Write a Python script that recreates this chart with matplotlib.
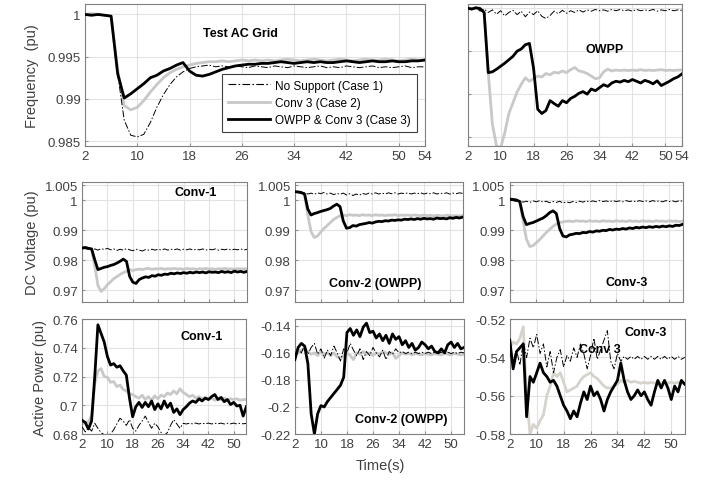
import matplotlib
matplotlib.use("Agg")
import matplotlib.pyplot as plt
from matplotlib.lines import Line2D
from matplotlib.ticker import FormatStrFormatter

plt.rcParams['font.family'] = ['Liberation Sans', 'DejaVu Sans']

t = list(range(2, 55))

# frequency, test AC grid
f_grid_c1 = [1.0000, 1.0000, 0.9999, 1.0000, 0.9998, 0.9930, 0.9875, 0.9857, 0.9855, 0.9858,
             0.9872, 0.9890, 0.9905, 0.9917, 0.9926, 0.9932, 0.9936, 0.9938, 0.9939, 0.9940,
             0.9938, 0.9939, 0.9938, 0.9939, 0.9938, 0.9937, 0.9939, 0.9938, 0.9937, 0.9939,
             0.9938, 0.9937, 0.9939, 0.9938, 0.9937, 0.9938, 0.9939, 0.9937, 0.9938, 0.9937,
             0.9939, 0.9938, 0.9937, 0.9938, 0.9939, 0.9937, 0.9938, 0.9937, 0.9938, 0.9939,
             0.9937, 0.9938, 0.9938]
f_grid_c2 = [1.0000, 1.0001, 1.0000, 0.9999, 0.9998, 0.9935, 0.9892, 0.9887, 0.9890, 0.9898,
             0.9908, 0.9917, 0.9925, 0.9931, 0.9935, 0.9938, 0.9940, 0.9942, 0.9943, 0.9944,
             0.9944, 0.9945, 0.9944, 0.9945, 0.9946, 0.9945, 0.9946, 0.9945, 0.9946, 0.9945,
             0.9946, 0.9947, 0.9946, 0.9945, 0.9946, 0.9947, 0.9946, 0.9945, 0.9946, 0.9947,
             0.9946, 0.9945, 0.9946, 0.9947, 0.9946, 0.9946, 0.9947, 0.9946, 0.9945, 0.9946,
             0.9947, 0.9946, 0.9946]
f_grid_c3 = [1.0000, 0.9999, 1.0000, 0.9999, 0.9998, 0.9930, 0.9901, 0.9906, 0.9912, 0.9918,
             0.9925, 0.9928, 0.9933, 0.9936, 0.9940, 0.9943, 0.9933, 0.9928, 0.9927, 0.9929,
             0.9932, 0.9935, 0.9937, 0.9939, 0.9940, 0.9941, 0.9941, 0.9942, 0.9942, 0.9943,
             0.9944, 0.9943, 0.9942, 0.9943, 0.9944, 0.9943, 0.9944, 0.9943, 0.9943, 0.9944,
             0.9945, 0.9944, 0.9943, 0.9944, 0.9945, 0.9944, 0.9944, 0.9945, 0.9944, 0.9944,
             0.9945, 0.9945, 0.9946]

# frequency, OWPP
f_owpp_c1 = [1.0000, 0.9996, 1.0002, 0.9993, 0.9998, 0.9990, 0.9996, 0.9986, 0.9994, 0.9982,
             0.9990, 0.9995, 0.9985, 0.9993, 0.9980, 0.9991, 0.9985, 0.9994, 0.9981, 0.9976,
             0.9983, 0.9993, 0.9987, 0.9995, 0.9988, 0.9994, 0.9990, 0.9996, 0.9991, 0.9996,
             0.9993, 0.9997, 0.9994, 0.9996, 0.9993, 0.9997, 0.9994, 0.9997, 0.9994, 0.9996,
             0.9993, 0.9997, 0.9994, 0.9996, 0.9994, 0.9997, 0.9993, 0.9996, 0.9994, 0.9997,
             0.9994, 0.9996, 0.9995]
f_owpp_c2 = [1.0000, 1.0000, 0.9999, 1.0000, 0.9990, 0.9850, 0.9730, 0.9680, 0.9675, 0.9710,
             0.9755, 0.9780, 0.9805, 0.9823, 0.9838, 0.9830, 0.9836, 0.9842, 0.9840, 0.9848,
             0.9845, 0.9851, 0.9849, 0.9854, 0.9850, 0.9857, 0.9862, 0.9854, 0.9852, 0.9848,
             0.9842, 0.9836, 0.9838, 0.9852, 0.9858, 0.9854, 0.9856, 0.9855, 0.9856, 0.9855,
             0.9856, 0.9855, 0.9857, 0.9855, 0.9856, 0.9855, 0.9856, 0.9857, 0.9855, 0.9856,
             0.9855, 0.9856, 0.9856]
f_owpp_c3 = [1.0000, 0.9998, 1.0001, 0.9999, 0.9990, 0.9850, 0.9852, 0.9858, 0.9865, 0.9872,
             0.9880, 0.9888, 0.9900, 0.9905, 0.9915, 0.9918, 0.9860, 0.9765, 0.9755, 0.9762,
             0.9785, 0.9778, 0.9772, 0.9785, 0.9780, 0.9790, 0.9795, 0.9802, 0.9806, 0.9800,
             0.9812, 0.9808, 0.9815, 0.9822, 0.9818, 0.9826, 0.9830, 0.9828, 0.9832, 0.9829,
             0.9834, 0.9830, 0.9826, 0.9832, 0.9829, 0.9824, 0.9831, 0.9820, 0.9825, 0.9830,
             0.9836, 0.9840, 0.9847]

# DC voltage
dc1_c1 = [0.9840, 0.9838, 0.9836, 0.9834, 0.9837, 0.9833, 0.9838, 0.9835, 0.9839, 0.9834,
          0.9837, 0.9832, 0.9836, 0.9833, 0.9838, 0.9834, 0.9831, 0.9836, 0.9833, 0.9830,
          0.9835, 0.9833, 0.9836, 0.9833, 0.9836, 0.9833, 0.9837, 0.9833, 0.9836, 0.9834,
          0.9837, 0.9833, 0.9836, 0.9834, 0.9837, 0.9833, 0.9836, 0.9834, 0.9837, 0.9833,
          0.9836, 0.9834, 0.9837, 0.9833, 0.9836, 0.9834, 0.9837, 0.9833, 0.9836, 0.9834,
          0.9837, 0.9833, 0.9836]
dc1_c2 = [0.9838, 0.9840, 0.9838, 0.9836, 0.9780, 0.9715, 0.9695, 0.9705, 0.9718, 0.9728,
          0.9738, 0.9745, 0.9752, 0.9758, 0.9762, 0.9768, 0.9765, 0.9768, 0.9770, 0.9768,
          0.9771, 0.9772, 0.9769, 0.9771, 0.9770, 0.9772, 0.9769, 0.9771, 0.9770, 0.9772,
          0.9770, 0.9771, 0.9769, 0.9772, 0.9770, 0.9771, 0.9769, 0.9771, 0.9770, 0.9772,
          0.9770, 0.9771, 0.9769, 0.9771, 0.9770, 0.9772, 0.9770, 0.9771, 0.9769, 0.9771,
          0.9770, 0.9771, 0.9770]
dc1_c3 = [0.9840, 0.9842, 0.9839, 0.9837, 0.9800, 0.9768, 0.9772, 0.9776, 0.9778, 0.9782,
          0.9785, 0.9790, 0.9796, 0.9803, 0.9795, 0.9745, 0.9726, 0.9722, 0.9735, 0.9740,
          0.9744, 0.9742, 0.9748, 0.9746, 0.9751, 0.9749, 0.9753, 0.9752, 0.9756, 0.9754,
          0.9757, 0.9755, 0.9758, 0.9756, 0.9759, 0.9757, 0.9760, 0.9758, 0.9760, 0.9757,
          0.9761, 0.9759, 0.9760, 0.9758, 0.9762, 0.9759, 0.9761, 0.9758, 0.9763, 0.9760,
          0.9762, 0.9759, 0.9762]

dc2_c1 = [1.0028, 1.0025, 1.0022, 1.0024, 1.0020, 1.0023, 1.0019, 1.0024, 1.0021, 1.0025,
          1.0020, 1.0023, 1.0018, 1.0022, 1.0019, 1.0023, 1.0017, 1.0021, 1.0015, 1.0020,
          1.0016, 1.0022, 1.0019, 1.0023, 1.0020, 1.0024, 1.0020, 1.0023, 1.0020, 1.0024,
          1.0021, 1.0024, 1.0020, 1.0023, 1.0021, 1.0024, 1.0020, 1.0023, 1.0021, 1.0024,
          1.0020, 1.0023, 1.0021, 1.0024, 1.0020, 1.0023, 1.0021, 1.0024, 1.0020, 1.0023,
          1.0021, 1.0024, 1.0022]
dc2_c2 = [1.0025, 1.0026, 1.0024, 1.0018, 0.9950, 0.9895, 0.9875, 0.9880, 0.9893, 0.9905,
          0.9915, 0.9925, 0.9935, 0.9942, 0.9947, 0.9950, 0.9948, 0.9951, 0.9949, 0.9950,
          0.9948, 0.9951, 0.9949, 0.9950, 0.9948, 0.9951, 0.9949, 0.9950, 0.9948, 0.9950,
          0.9949, 0.9951, 0.9948, 0.9950, 0.9949, 0.9950, 0.9948, 0.9950, 0.9949, 0.9948,
          0.9950, 0.9948, 0.9949, 0.9947, 0.9949, 0.9948, 0.9947, 0.9949, 0.9948, 0.9947,
          0.9948, 0.9947, 0.9948]
dc2_c3 = [1.0028, 1.0027, 1.0025, 1.0020, 0.9970, 0.9950, 0.9955, 0.9958, 0.9962, 0.9965,
          0.9968, 0.9972, 0.9980, 0.9986, 0.9978, 0.9930, 0.9906, 0.9908, 0.9915, 0.9913,
          0.9918, 0.9920, 0.9922, 0.9925, 0.9923, 0.9927, 0.9929, 0.9928, 0.9931, 0.9930,
          0.9933, 0.9932, 0.9934, 0.9933, 0.9936, 0.9935, 0.9937, 0.9935, 0.9938, 0.9936,
          0.9939, 0.9937, 0.9938, 0.9936, 0.9940, 0.9938, 0.9939, 0.9937, 0.9941, 0.9939,
          0.9942, 0.9940, 0.9943]

dc3_c1 = [1.0000, 0.9998, 0.9995, 0.9997, 0.9993, 0.9996, 0.9992, 0.9997, 0.9994, 0.9998,
          0.9993, 0.9996, 0.9991, 0.9995, 0.9992, 0.9996, 0.9990, 0.9994, 0.9991, 0.9995,
          0.9992, 0.9996, 0.9993, 0.9997, 0.9994, 0.9997, 0.9994, 0.9998, 0.9995, 0.9997,
          0.9994, 0.9998, 0.9995, 0.9997, 0.9994, 0.9998, 0.9995, 0.9997, 0.9994, 0.9998,
          0.9995, 0.9997, 0.9994, 0.9998, 0.9995, 0.9997, 0.9994, 0.9998, 0.9995, 0.9997,
          0.9994, 0.9998, 0.9996]
dc3_c2 = [1.0000, 1.0001, 0.9999, 0.9995, 0.9930, 0.9870, 0.9845, 0.9848, 0.9858, 0.9868,
          0.9880, 0.9892, 0.9902, 0.9912, 0.9920, 0.9925, 0.9927, 0.9929, 0.9930, 0.9928,
          0.9931, 0.9929, 0.9930, 0.9928, 0.9931, 0.9929, 0.9930, 0.9928, 0.9931, 0.9929,
          0.9930, 0.9928, 0.9931, 0.9929, 0.9930, 0.9928, 0.9931, 0.9929, 0.9930, 0.9928,
          0.9931, 0.9929, 0.9930, 0.9928, 0.9931, 0.9929, 0.9930, 0.9928, 0.9931, 0.9929,
          0.9930, 0.9928, 0.9930]
dc3_c3 = [1.0003, 1.0002, 1.0000, 0.9995, 0.9945, 0.9918, 0.9922, 0.9925, 0.9930, 0.9935,
          0.9940, 0.9948, 0.9958, 0.9964, 0.9955, 0.9905, 0.9880, 0.9877, 0.9884, 0.9886,
          0.9889, 0.9888, 0.9892, 0.9891, 0.9895, 0.9893, 0.9897, 0.9896, 0.9899, 0.9898,
          0.9902, 0.9900, 0.9903, 0.9902, 0.9905, 0.9903, 0.9907, 0.9905, 0.9909, 0.9907,
          0.9910, 0.9908, 0.9911, 0.9909, 0.9912, 0.9910, 0.9913, 0.9911, 0.9914, 0.9912,
          0.9916, 0.9915, 0.9919]

# active power
p1_c1 = [0.6850, 0.6815, 0.6845, 0.6820, 0.6875, 0.6840, 0.6810, 0.6795, 0.6790, 0.6800,
         0.6830, 0.6870, 0.6910, 0.6890, 0.6860, 0.6900, 0.6840, 0.6820, 0.6860, 0.6890,
         0.6925, 0.6880, 0.6840, 0.6875, 0.6850, 0.6810, 0.6790, 0.6810, 0.6860, 0.6900,
         0.6870, 0.6840, 0.6874, 0.6870, 0.6875, 0.6871, 0.6876, 0.6870, 0.6875, 0.6871,
         0.6876, 0.6870, 0.6875, 0.6871, 0.6876, 0.6870, 0.6875, 0.6871, 0.6876, 0.6870,
         0.6875, 0.6871, 0.6874]
p1_c2 = [0.6870, 0.6885, 0.6880, 0.6930, 0.7150, 0.7240, 0.7255, 0.7200, 0.7195, 0.7160,
         0.7165, 0.7130, 0.7140, 0.7110, 0.7100, 0.7080, 0.7075, 0.7060, 0.7050, 0.7070,
         0.7040, 0.7060, 0.7035, 0.7065, 0.7045, 0.7070, 0.7060, 0.7085, 0.7075, 0.7100,
         0.7080, 0.7115, 0.7090, 0.7075, 0.7060, 0.7070, 0.7050, 0.7060, 0.7045, 0.7055,
         0.7040, 0.7050, 0.7035, 0.7045, 0.7040, 0.7050, 0.7035, 0.7045, 0.7040, 0.7045,
         0.7035, 0.7040, 0.7040]
p1_c3 = [0.6895, 0.6880, 0.6835, 0.6890, 0.7200, 0.7560, 0.7500, 0.7440, 0.7340, 0.7280,
         0.7290, 0.7265, 0.7275, 0.7240, 0.7210, 0.7050, 0.6920, 0.6990, 0.7020, 0.6985,
         0.7020, 0.6990, 0.7030, 0.6970, 0.7010, 0.6975, 0.7030, 0.6985, 0.7015, 0.6950,
         0.6975, 0.6935, 0.6970, 0.6990, 0.7015, 0.7030, 0.7020, 0.7045, 0.7030, 0.7050,
         0.7040, 0.7060, 0.7075, 0.7040, 0.7055, 0.7025, 0.7040, 0.7005, 0.7020, 0.6995,
         0.7000, 0.6925, 0.6990]

p2_c1 = [-0.1630, -0.1570, -0.1600, -0.1540, -0.1610, -0.1560, -0.1530, -0.1610, -0.1570, -0.1640,
         -0.1580, -0.1620, -0.1550, -0.1600, -0.1660, -0.1570, -0.1600, -0.1530, -0.1580, -0.1620,
         -0.1570, -0.1650, -0.1590, -0.1620, -0.1560, -0.1600, -0.1630, -0.1580, -0.1650, -0.1590,
         -0.1610, -0.1570, -0.1600, -0.1590, -0.1605, -0.1595, -0.1605, -0.1595, -0.1605, -0.1595,
         -0.1605, -0.1595, -0.1605, -0.1595, -0.1605, -0.1595, -0.1605, -0.1595, -0.1605, -0.1595,
         -0.1605, -0.1595, -0.1600]
p2_c2 = [-0.1620, -0.1600, -0.1580, -0.1570, -0.1590, -0.1610, -0.1600, -0.1620, -0.1590, -0.1610,
         -0.1600, -0.1620, -0.1600, -0.1630, -0.1640, -0.1620, -0.1600, -0.1620, -0.1650, -0.1600,
         -0.1610, -0.1590, -0.1610, -0.1600, -0.1620, -0.1600, -0.1610, -0.1590, -0.1600, -0.1610,
         -0.1600, -0.1640, -0.1620, -0.1600, -0.1610, -0.1605, -0.1615, -0.1605, -0.1610, -0.1615,
         -0.1605, -0.1610, -0.1615, -0.1605, -0.1610, -0.1615, -0.1605, -0.1610, -0.1615, -0.1605,
         -0.1610, -0.1615, -0.1610]
p2_c3 = [-0.1650, -0.1560, -0.1530, -0.1550, -0.1680, -0.2050, -0.2200, -0.2050, -0.1990, -0.2000,
         -0.1960, -0.1930, -0.1900, -0.1870, -0.1840, -0.1780, -0.1450, -0.1420, -0.1470, -0.1430,
         -0.1480, -0.1410, -0.1380, -0.1450, -0.1440, -0.1490, -0.1460, -0.1510, -0.1470, -0.1530,
         -0.1460, -0.1500, -0.1480, -0.1540, -0.1510, -0.1560, -0.1530, -0.1580, -0.1560, -0.1520,
         -0.1540, -0.1570, -0.1550, -0.1590, -0.1600, -0.1570, -0.1600, -0.1540, -0.1520, -0.1560,
         -0.1530, -0.1570, -0.1560]

p3_c1 = [-0.5380, -0.5420, -0.5360, -0.5440, -0.5320, -0.5400, -0.5300, -0.5350, -0.5280, -0.5380,
         -0.5330, -0.5450, -0.5370, -0.5480, -0.5400, -0.5360, -0.5450, -0.5390, -0.5420, -0.5350,
         -0.5400, -0.5330, -0.5380, -0.5460, -0.5390, -0.5300, -0.5410, -0.5360, -0.5310, -0.5260,
         -0.5420, -0.5460, -0.5380, -0.5420, -0.5395, -0.5410, -0.5395, -0.5410, -0.5395, -0.5410,
         -0.5395, -0.5410, -0.5395, -0.5410, -0.5395, -0.5410, -0.5395, -0.5410, -0.5395, -0.5410,
         -0.5395, -0.5410, -0.5400]
p3_c2 = [-0.5350, -0.5320, -0.5330, -0.5300, -0.5240, -0.5600, -0.5800, -0.5750, -0.5770, -0.5730,
         -0.5700, -0.5600, -0.5550, -0.5480, -0.5500, -0.5480, -0.5530, -0.5580, -0.5570, -0.5560,
         -0.5550, -0.5520, -0.5500, -0.5490, -0.5480, -0.5500, -0.5510, -0.5530, -0.5550, -0.5560,
         -0.5560, -0.5550, -0.5540, -0.5520, -0.5530, -0.5520, -0.5530, -0.5525, -0.5530, -0.5535,
         -0.5530, -0.5535, -0.5530, -0.5535, -0.5530, -0.5535, -0.5530, -0.5535, -0.5530, -0.5535,
         -0.5530, -0.5535, -0.5535]
p3_c3 = [-0.5310, -0.5460, -0.5370, -0.5350, -0.5330, -0.5710, -0.5500, -0.5530, -0.5480, -0.5430,
         -0.5480, -0.5500, -0.5530, -0.5520, -0.5550, -0.5600, -0.5650, -0.5680, -0.5720, -0.5680,
         -0.5710, -0.5640, -0.5580, -0.5620, -0.5550, -0.5600, -0.5580, -0.5620, -0.5680, -0.5620,
         -0.5580, -0.5550, -0.5520, -0.5430, -0.5520, -0.5580, -0.5620, -0.5600, -0.5570, -0.5600,
         -0.5580, -0.5620, -0.5650, -0.5580, -0.5520, -0.5560, -0.5520, -0.5560, -0.5620, -0.5550,
         -0.5580, -0.5520, -0.5540]

GREY = '#c8c8c8'
DASH = (0, (7, 2, 1.5, 2))
TXT = '#404040'

fig = plt.figure(figsize=(7.14, 4.81), dpi=100)


def panel(rect, c1, c2, c3, ylim, yticks, xticks, xlabels=True, ylabels=True, grey=GREY):
    ax = fig.add_axes(rect)
    ax.plot(t, c2, color=grey, lw=2.0, zorder=2)
    ax.plot(t, c1, color='black', lw=0.7, ls=DASH, zorder=3)
    ax.plot(t, c3, color='black', lw=2.0, zorder=4)
    ax.set_xlim(2, 54)
    ax.set_ylim(*ylim)
    ax.set_xticks(xticks)
    ax.set_yticks(yticks)
    ax.yaxis.set_major_formatter(FormatStrFormatter('%g'))
    if not xlabels:
        ax.set_xticklabels([])
    if not ylabels:
        ax.set_yticklabels([])
    ax.grid(True, color='#e2e2e2', lw=0.8)
    ax.set_axisbelow(True)
    ax.tick_params(direction='in', length=2.5, color='#909090', labelcolor=TXT,
                   labelsize=9.5, pad=3)
    for s in ax.spines.values():
        s.set_color('#808080')
        s.set_linewidth(0.8)
    return ax


top_x = [2, 10, 18, 26, 34, 42, 50, 54]
mid_x = [2, 10, 18, 26, 34, 42, 50]

a1 = panel([0.119, 0.694, 0.476, 0.295], f_grid_c1, f_grid_c2, f_grid_c3,
           (0.9844, 1.0012), [0.985, 0.99, 0.995, 1.0], top_x)
a1.set_ylabel('Frequency  (pu)', fontsize=10.5, color=TXT, labelpad=6)
a1.text(0.456, 0.80, 'Test AC Grid', transform=a1.transAxes, fontsize=9,
        fontweight='bold', ha='center', va='center')
handles = [Line2D([], [], color='black', lw=0.8, ls=DASH),
           Line2D([], [], color=GREY, lw=2.0),
           Line2D([], [], color='black', lw=2.0)]
leg = a1.legend(handles, ['No Support (Case 1)', 'Conv 3 (Case 2)', 'OWPP & Conv 3 (Case 3)'],
                loc='lower right', bbox_to_anchor=(0.976, 0.099), fontsize=8.5,
                fancybox=False, edgecolor='#404040', framealpha=1, handlelength=3.6,
                borderpad=0.5, labelspacing=0.45, handletextpad=0.4, borderaxespad=0)
leg.get_frame().set_linewidth(0.8)

a2 = panel([0.655, 0.694, 0.300, 0.295], f_owpp_c1, f_owpp_c2, f_owpp_c3,
           (0.9679, 1.0009), [0.97, 0.98, 0.99, 1.0], top_x, ylabels=False)
a2.text(0.64, 0.683, 'OWPP', transform=a2.transAxes, fontsize=9,
        fontweight='bold', ha='center', va='center')

dc_ticks = [0.97, 0.98, 0.99, 1.0, 1.005]
m1 = panel([0.115, 0.370, 0.231, 0.2495], dc1_c1, dc1_c2, dc1_c3,
           (0.966, 1.006), dc_ticks, mid_x, xlabels=False)
m1.set_ylabel('DC Voltage (pu)', fontsize=10.5, color=TXT, labelpad=4)
m1.text(0.69, 0.917, 'Conv-1', transform=m1.transAxes, fontsize=9,
        fontweight='bold', ha='center', va='center')
m2 = panel([0.413, 0.370, 0.235, 0.2495], dc2_c1, dc2_c2, dc2_c3,
           (0.966, 1.006), dc_ticks, mid_x, xlabels=False)
m2.text(0.48, 0.158, 'Conv-2 (OWPP)', transform=m2.transAxes, fontsize=9,
        fontweight='bold', ha='center', va='center')
m3 = panel([0.714, 0.370, 0.242, 0.2495], dc3_c1, dc3_c2, dc3_c3,
           (0.966, 1.006), dc_ticks, mid_x, xlabels=False)
m3.text(0.676, 0.167, 'Conv-3', transform=m3.transAxes, fontsize=9,
        fontweight='bold', ha='center', va='center')

b1 = panel([0.115, 0.0956, 0.230, 0.239], p1_c1, p1_c2, p1_c3,
           (0.68, 0.76), [0.68, 0.70, 0.72, 0.74, 0.76], mid_x)
b1.set_ylabel('Active Power (pu)', fontsize=10.5, color=TXT, labelpad=4)
b1.text(0.73, 0.852, 'Conv-1', transform=b1.transAxes, fontsize=9,
        fontweight='bold', ha='center', va='center')
b2 = panel([0.413, 0.0956, 0.237, 0.239], p2_c1, p2_c2, p2_c3,
           (-0.22, -0.135), [-0.22, -0.20, -0.18, -0.16, -0.14], mid_x)
b2.text(0.627, 0.13, 'Conv-2 (OWPP)', transform=b2.transAxes, fontsize=9,
        fontweight='bold', ha='center', va='center')
b3 = panel([0.714, 0.0956, 0.245, 0.239], p3_c1, p3_c2, p3_c3,
           (-0.58, -0.52), [-0.58, -0.56, -0.54, -0.52], mid_x, grey='#d6d3cc')
b3.text(0.777, 0.887, 'Conv-3', transform=b3.transAxes, fontsize=9,
        fontweight='bold', ha='center', va='center')
b3.text(0.514, 0.74, 'Conv 3', transform=b3.transAxes, fontsize=9,
        fontweight='bold', ha='center', va='center', zorder=1)

fig.text(0.532, 0.031, 'Time(s)', fontsize=10.5, color=TXT, ha='center', va='center')

fig.savefig('out.png', dpi=100)
